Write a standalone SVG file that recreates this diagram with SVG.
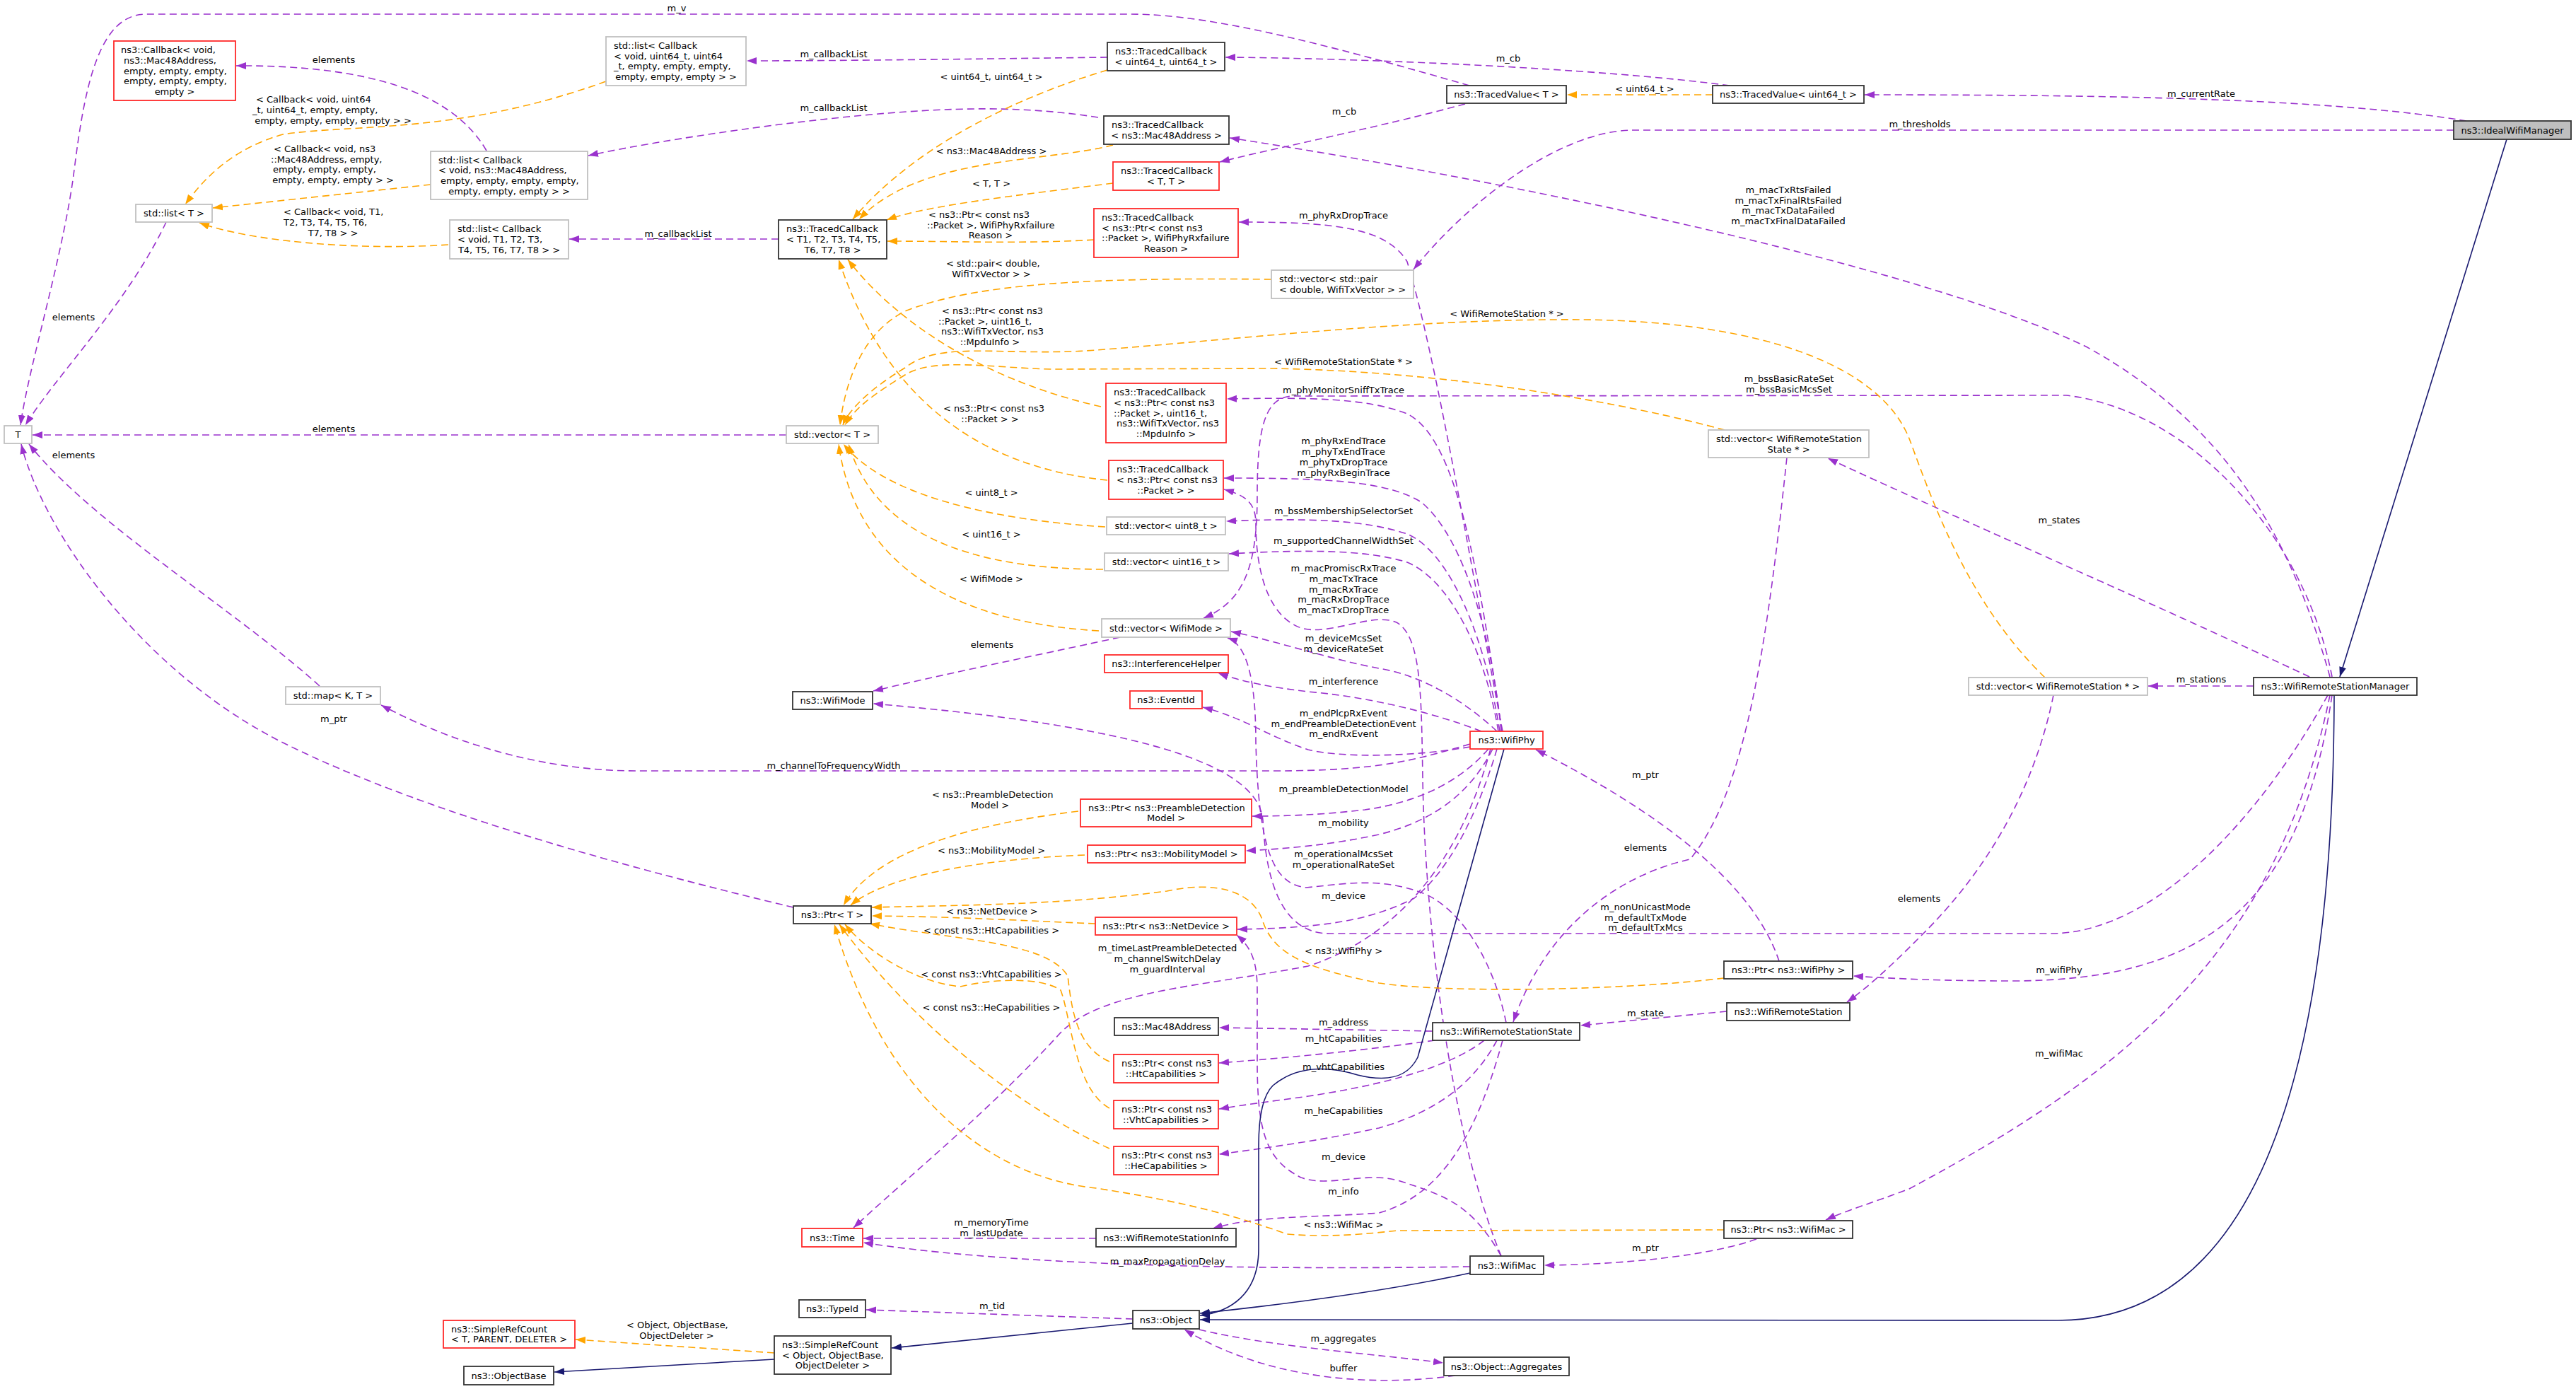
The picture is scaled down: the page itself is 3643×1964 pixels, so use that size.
<svg xmlns="http://www.w3.org/2000/svg" width="3643" height="1964" viewBox="0 0 3643 1964">
<style>
text{font-family:"DejaVu Sans","Liberation Sans",sans-serif;font-size:13px;fill:#000;text-anchor:middle}
text.s{text-anchor:start}
rect{fill:#fff;stroke-width:1.8}
rect.b{stroke:#333}
rect.r{stroke:#ff2a2a}
rect.g{stroke:#c0c0c0}
rect.f{fill:#bfbfbf;stroke:#333}
.u{fill:none;stroke:#9a32cd;stroke-width:1.6;stroke-dasharray:10,6;marker-end:url(#au)}
.t{fill:none;stroke:#ffa500;stroke-width:1.6;stroke-dasharray:10,6;marker-end:url(#at)}
.i{fill:none;stroke:#191970;stroke-width:1.6;marker-end:url(#ai)}
</style>
<defs>
<marker id="au" markerUnits="userSpaceOnUse" markerWidth="15" markerHeight="11" refX="14" refY="5" orient="auto"><path d="M0,0 L14,5 L0,10 Z" fill="#9a32cd"/></marker>
<marker id="at" markerUnits="userSpaceOnUse" markerWidth="15" markerHeight="11" refX="14" refY="5" orient="auto"><path d="M0,0 L14,5 L0,10 Z" fill="#ffa500"/></marker>
<marker id="ai" markerUnits="userSpaceOnUse" markerWidth="15" markerHeight="11" refX="14" refY="5" orient="auto"><path d="M0,0 L14,5 L0,10 Z" fill="#191970"/></marker>
</defs>
<rect x="0" y="0" width="3643" height="1964" fill="#fff" stroke="none"/>
<g id="edges">
<path class="u" d="M3488,171 C3300,140 3000,134 2637,134"/>
<path class="u" d="M3470,184 L2310,184 C2210,184 2080,280 1999,381"/>
<path class="u" d="M2446,121 C2250,95 1900,82 1733,81"/>
<path class="u" d="M2078,121 C1900,70 1720,20 1600,20 L205,20 C140,22 120,120 105,240 S40,520 29,601"/>
<path class="u" d="M2072,147 C1950,180 1800,210 1725,229"/>
<path class="u" d="M1566,81 C1400,83 1200,86 1056,86"/>
<path class="u" d="M1553,166 C1450,150 1350,150 1200,165 C1050,180 900,205 832,220"/>
<path class="u" d="M1101,338 L805,338"/>
<path class="u" d="M688,213 C640,130 520,92 334,93"/>
<path class="u" d="M235,314 C180,430 80,530 36,601"/>
<path class="u" d="M1112,615 L46,615"/>
<path class="u" d="M452,970 C330,860 130,740 41,628"/>
<path class="u" d="M1122,1283 C900,1230 600,1150 400,1050 C200,950 60,750 30,628"/>
<path class="u" d="M2079,1052 C2000,1075 1950,1090 1800,1090 L900,1090 C750,1090 620,1040 539,997"/>
<path class="u" d="M1584,901 C1450,930 1350,950 1235,977"/>
<path class="u" d="M3292,983 C3200,1150 3050,1320 2900,1320 L1880,1320 C1810,1320 1790,1240 1786,1160 C1780,1090 1650,1030 1235,995"/>
<path class="u" d="M2904,983 C2870,1150 2780,1260 2720,1320 C2690,1350 2650,1390 2612,1417"/>
<path class="u" d="M2527,647 C2500,900 2470,1120 2390,1215 C2300,1235 2190,1300 2140,1445"/>
<path class="u" d="M3266,957 C3050,855 2750,725 2585,648"/>
<path class="u" d="M3187,970 L3038,970"/>
<path class="u" d="M3295,957 C3240,760 3150,600 2950,490 C2700,370 2100,250 1739,195"/>
<path class="u" d="M3298,957 C3260,760 3100,580 2922,559 L1830,560 C1790,560 1778,600 1778,700 C1778,800 1760,850 1702,874"/>
<path class="u" d="M2125,1034 C2080,800 2030,500 1990,370 C1960,320 1880,314 1752,314"/>
<path class="u" d="M2124,1034 C2090,800 2060,620 1990,585 C1930,562 1850,562 1735,564"/>
<path class="u" d="M2123,1034 C2110,900 2070,760 2010,710 C1960,680 1880,676 1731,676"/>
<path class="u" d="M2121,1034 C2100,900 2050,780 1990,755 C1930,735 1850,732 1734,737"/>
<path class="u" d="M2119,1034 C2100,920 2050,820 1990,795 C1930,777 1850,777 1738,783"/>
<path class="u" d="M2123,1776 C2050,1600 2015,1300 2012,1100 C2010,980 2010,900 1975,880 C1940,865 1880,900 1840,888 C1790,870 1776,800 1776,740 C1776,710 1760,700 1731,692"/>
<path class="u" d="M2117,1034 C2070,990 2010,955 1950,945 C1880,932 1800,905 1741,893"/>
<path class="u" d="M2130,1446 C2110,1350 2060,1280 2010,1262 C1950,1240 1900,1250 1847,1255 C1800,1250 1780,1200 1776,1050 C1776,950 1760,910 1736,902"/>
<path class="u" d="M2095,1034 C2020,1005 1930,985 1850,978 C1800,972 1760,965 1723,952"/>
<path class="u" d="M2079,1056 C2000,1070 1900,1072 1850,1060 C1790,1040 1760,1015 1701,1000"/>
<path class="u" d="M2105,1059 C2060,1110 2000,1135 1930,1145 C1870,1152 1820,1154 1771,1154"/>
<path class="u" d="M2111,1059 C2080,1120 2030,1160 1950,1180 C1880,1195 1820,1200 1762,1203"/>
<path class="u" d="M2117,1059 C2090,1150 2050,1230 2000,1270 C1940,1300 1880,1312 1750,1314"/>
<path class="u" d="M2123,1776 C2080,1700 2040,1690 1980,1670 C1930,1655 1880,1680 1840,1665 C1790,1640 1778,1600 1778,1500 L1778,1400 C1778,1360 1770,1340 1749,1322"/>
<path class="u" d="M2108,1059 C2070,1200 1990,1320 1850,1366 C1700,1395 1560,1400 1500,1460 C1400,1570 1300,1650 1207,1736"/>
<path class="u" d="M2026,1458 L1724,1453"/>
<path class="u" d="M2029,1471 C1930,1485 1830,1495 1724,1503"/>
<path class="u" d="M2099,1471 C2050,1510 1950,1535 1850,1550 C1800,1557 1760,1562 1724,1568"/>
<path class="u" d="M2117,1471 C2080,1540 2020,1575 1950,1595 C1870,1612 1800,1622 1724,1632"/>
<path class="u" d="M2125,1471 C2090,1600 2040,1690 1950,1715 C1860,1722 1780,1718 1715,1737"/>
<path class="u" d="M1550,1751 L1221,1751"/>
<path class="u" d="M2079,1791 C1700,1797 1400,1785 1221,1757"/>
<path class="u" d="M1602,1865 L1225,1852"/>
<path class="u" d="M1696,1880 C1800,1905 1950,1915 2041,1927"/>
<path class="u" d="M2058,1945 C1950,1960 1800,1955 1675,1880"/>
<path class="u" d="M2442,1430 L2235,1450"/>
<path class="u" d="M2484,1752 C2420,1775 2300,1788 2184,1789"/>
<path class="u" d="M2516,1359 C2480,1250 2350,1150 2172,1060"/>
<path class="u" d="M3298,983 C3250,1300 3100,1385 2850,1387 C2750,1387 2680,1384 2621,1380"/>
<path class="u" d="M3295,983 C3220,1350 3000,1520 2700,1681 C2650,1700 2610,1712 2582,1725"/>
<path class="i" d="M3545,197 L3309,957"/>
<path class="i" d="M3301,983 C3300,1500 3200,1867 2910,1867 L1697,1866"/>
<path class="i" d="M2127,1059 L2005,1495 C1990,1525 1960,1530 1920,1520 C1870,1505 1830,1510 1800,1535 C1785,1550 1780,1580 1780,1620 L1780,1766 C1780,1830 1740,1855 1697,1860"/>
<path class="i" d="M2079,1800 C1950,1828 1800,1846 1697,1857"/>
<path class="i" d="M1602,1871 L1261,1906"/>
<path class="i" d="M1095,1922 L784,1940"/>
<path class="t" d="M2422,134 L2216,134"/>
<path class="t" d="M1566,99 C1430,140 1290,210 1206,310"/>
<path class="t" d="M1574,205 C1480,230 1300,220 1215,310"/>
<path class="t" d="M1574,259 C1450,275 1310,290 1254,311"/>
<path class="t" d="M1547,339 C1450,345 1350,341 1255,341"/>
<path class="t" d="M1557,575 C1400,540 1270,460 1199,367"/>
<path class="t" d="M1566,679 C1380,660 1250,560 1186,367"/>
<path class="t" d="M1798,395 C1550,392 1380,400 1280,440 C1220,470 1195,540 1188,601"/>
<path class="t" d="M2892,958 C2780,850 2730,700 2700,620 C2660,520 2500,455 2240,452 C2000,450 1750,480 1550,495 C1420,505 1330,480 1280,520 C1230,550 1200,580 1192,601"/>
<path class="t" d="M2439,608 C2300,570 2050,525 1800,521 L1487,522 C1400,520 1320,505 1280,530 C1240,555 1210,575 1195,601"/>
<path class="t" d="M1563,745 C1400,735 1250,700 1193,628"/>
<path class="t" d="M1560,805 C1380,805 1240,760 1200,628"/>
<path class="t" d="M1554,892 C1350,880 1210,800 1186,628"/>
<path class="t" d="M1525,1147 C1380,1165 1240,1200 1193,1280"/>
<path class="t" d="M1534,1209 C1380,1215 1250,1240 1203,1280"/>
<path class="t" d="M1549,1306 C1450,1302 1350,1296 1233,1295"/>
<path class="t" d="M2438,1383 C2300,1400 2050,1405 1950,1390 C1850,1370 1800,1350 1785,1300 C1770,1260 1720,1245 1650,1260 C1500,1280 1350,1280 1233,1283"/>
<path class="t" d="M1569,1501 C1520,1480 1515,1420 1510,1380 C1480,1330 1350,1330 1230,1306"/>
<path class="t" d="M1569,1567 C1520,1540 1515,1440 1500,1400 C1470,1380 1400,1385 1358,1395 C1300,1390 1230,1350 1195,1307"/>
<path class="t" d="M1569,1624 C1450,1570 1300,1460 1187,1307"/>
<path class="t" d="M2438,1739 L1976,1740 C1930,1745 1880,1750 1820,1745 C1750,1720 1680,1700 1550,1680 C1400,1665 1250,1550 1180,1307"/>
<path class="t" d="M1095,1913 L814,1894"/>
<path class="t" d="M857,115 C650,190 500,175 400,190 C330,210 290,250 262,289"/>
<path class="t" d="M609,261 L301,294"/>
<path class="t" d="M634,346 C500,355 350,340 282,315"/>
</g>
<g id="n-ideal"><rect class="f" x="3470" y="171" width="166" height="26"/><text x="3553" y="188.5">ns3::IdealWifiManager</text></g>
<g id="n-wrsm"><rect class="b" x="3187" y="958" width="231" height="25"/><text x="3302.5" y="975">ns3::WifiRemoteStationManager</text></g>
<g id="n-tv-u64"><rect class="b" x="2422" y="121" width="214" height="25"/><text x="2529" y="138">ns3::TracedValue&lt; uint64_t &gt;</text></g>
<g id="n-tv-t"><rect class="b" x="2046" y="121" width="169" height="25"/><text x="2130.5" y="138">ns3::TracedValue&lt; T &gt;</text></g>
<g id="n-vec-pair"><rect class="g" x="1798" y="382" width="201" height="40"/><text class="s" x="1809" y="399">std::vector&lt; std::pair</text><text x="1898.5" y="414">&lt; double, WifiTxVector &gt; &gt;</text></g>
<g id="n-vec-wrss"><rect class="g" x="2416" y="608" width="227" height="39"/><text class="s" x="2427" y="625">std::vector&lt; WifiRemoteStation</text><text x="2529.5" y="639.5">State * &gt;</text></g>
<g id="n-vec-wrs"><rect class="g" x="2784" y="958" width="253" height="25"/><text x="2910.5" y="975">std::vector&lt; WifiRemoteStation * &gt;</text></g>
<g id="n-tcb-u64"><rect class="b" x="1566" y="60" width="166" height="40"/><text class="s" x="1577" y="77">ns3::TracedCallback</text><text x="1649" y="92">&lt; uint64_t, uint64_t &gt;</text></g>
<g id="n-tcb-mac"><rect class="b" x="1561" y="164" width="177" height="40"/><text class="s" x="1572" y="181">ns3::TracedCallback</text><text x="1649.5" y="196">&lt; ns3::Mac48Address &gt;</text></g>
<g id="n-tcb-tt"><rect class="r" x="1574" y="229" width="150" height="40"/><text class="s" x="1585" y="246">ns3::TracedCallback</text><text x="1649" y="261">&lt; T, T &gt;</text></g>
<g id="n-tcb-rxf"><rect class="r" x="1547" y="295" width="204" height="69"/><text class="s" x="1558" y="312">ns3::TracedCallback</text><text class="s" x="1558" y="326.7">&lt; ns3::Ptr&lt; const ns3</text><text class="s" x="1558" y="341.4">::Packet &gt;, WifiPhyRxfailure</text><text x="1649" y="356">Reason &gt;</text></g>
<g id="n-tcb-t8"><rect class="b" x="1101" y="311" width="153" height="55"/><text class="s" x="1112" y="328.3">ns3::TracedCallback</text><text class="s" x="1112" y="343">&lt; T1, T2, T3, T4, T5,</text><text x="1177.5" y="357.7">T6, T7, T8 &gt;</text></g>
<g id="n-list-u64"><rect class="g" x="857" y="52" width="198" height="69"/><text class="s" x="868" y="69">std::list&lt; Callback</text><text class="s" x="868" y="83.7">&lt; void, uint64_t, uint64</text><text class="s" x="868" y="98.4">_t, empty, empty, empty,</text><text x="956" y="113">empty, empty, empty &gt; &gt;</text></g>
<g id="n-list-mac"><rect class="g" x="609" y="214" width="222" height="68"/><text class="s" x="620" y="230.5">std::list&lt; Callback</text><text class="s" x="620" y="245.2">&lt; void, ns3::Mac48Address,</text><text class="s" x="623" y="259.9">empty, empty, empty, empty,</text><text x="720" y="274.5">empty, empty, empty &gt; &gt;</text></g>
<g id="n-list-t8"><rect class="g" x="636" y="311" width="168" height="55"/><text class="s" x="647" y="328.3">std::list&lt; Callback</text><text class="s" x="647" y="343">&lt; void, T1, T2, T3,</text><text x="720" y="357.7">T4, T5, T6, T7, T8 &gt; &gt;</text></g>
<g id="n-list-t"><rect class="g" x="192" y="289" width="108" height="25"/><text x="246" y="306">std::list&lt; T &gt;</text></g>
<g id="n-callback"><rect class="r" x="161" y="58" width="172" height="84"/><text class="s" x="171" y="75.1">ns3::Callback&lt; void,</text><text class="s" x="175" y="89.8">ns3::Mac48Address,</text><text class="s" x="175" y="104.5">empty, empty, empty,</text><text class="s" x="175" y="119.2">empty, empty, empty,</text><text x="247" y="133.9">empty &gt;</text></g>
<g id="n-T"><rect class="g" x="6" y="602" width="39" height="25"/><text x="25.5" y="619">T</text></g>
<g id="n-vec-t"><rect class="g" x="1112" y="602" width="130" height="25"/><text x="1177" y="619">std::vector&lt; T &gt;</text></g>
<g id="n-tcb-mpdu"><rect class="r" x="1564" y="542" width="170" height="84"/><text class="s" x="1575" y="559.1">ns3::TracedCallback</text><text class="s" x="1575" y="573.8">&lt; ns3::Ptr&lt; const ns3</text><text class="s" x="1575" y="588.5">::Packet &gt;, uint16_t,</text><text class="s" x="1579" y="603.2">ns3::WifiTxVector, ns3</text><text x="1649" y="617.9">::MpduInfo &gt;</text></g>
<g id="n-tcb-pkt"><rect class="r" x="1568" y="651" width="162" height="55"/><text class="s" x="1579" y="668.3">ns3::TracedCallback</text><text class="s" x="1579" y="683">&lt; ns3::Ptr&lt; const ns3</text><text x="1649" y="697.7">::Packet &gt; &gt;</text></g>
<g id="n-vec-u8"><rect class="g" x="1565" y="731" width="168" height="25"/><text x="1649" y="748">std::vector&lt; uint8_t &gt;</text></g>
<g id="n-vec-u16"><rect class="g" x="1562" y="782" width="175" height="25"/><text x="1649.5" y="799">std::vector&lt; uint16_t &gt;</text></g>
<g id="n-vec-mode"><rect class="g" x="1558" y="875" width="182" height="26"/><text x="1649" y="892.5">std::vector&lt; WifiMode &gt;</text></g>
<g id="n-interf"><rect class="r" x="1562" y="926" width="175" height="25"/><text x="1649.5" y="943">ns3::InterferenceHelper</text></g>
<g id="n-wifimode"><rect class="b" x="1121" y="978" width="113" height="25"/><text x="1177.5" y="995">ns3::WifiMode</text></g>
<g id="n-eventid"><rect class="r" x="1598" y="977" width="102" height="25"/><text x="1649" y="994">ns3::EventId</text></g>
<g id="n-map"><rect class="g" x="404" y="971" width="134" height="25"/><text x="471" y="988">std::map&lt; K, T &gt;</text></g>
<g id="n-ptr-pre"><rect class="r" x="1528" y="1130" width="242" height="39"/><text class="s" x="1539" y="1146.7">ns3::Ptr&lt; ns3::PreambleDetection</text><text x="1649" y="1161.4">Model &gt;</text></g>
<g id="n-ptr-mob"><rect class="r" x="1538" y="1195" width="223" height="25"/><text x="1649.5" y="1212">ns3::Ptr&lt; ns3::MobilityModel &gt;</text></g>
<g id="n-ptr-t"><rect class="b" x="1122" y="1281" width="110" height="25"/><text x="1177" y="1298">ns3::Ptr&lt; T &gt;</text></g>
<g id="n-ptr-nd"><rect class="r" x="1549" y="1297" width="200" height="25"/><text x="1649" y="1314">ns3::Ptr&lt; ns3::NetDevice &gt;</text></g>
<g id="n-wifiphy"><rect class="r" x="2079" y="1034" width="103" height="25"/><text x="2130.5" y="1051">ns3::WifiPhy</text></g>
<g id="n-mac48"><rect class="b" x="1576" y="1439" width="147" height="25"/><text x="1649.5" y="1456">ns3::Mac48Address</text></g>
<g id="n-ptr-ht"><rect class="r" x="1575" y="1491" width="148" height="40"/><text class="s" x="1586" y="1508.2">ns3::Ptr&lt; const ns3</text><text x="1649" y="1522.9">::HtCapabilities &gt;</text></g>
<g id="n-ptr-vht"><rect class="r" x="1575" y="1556" width="148" height="40"/><text class="s" x="1586" y="1573.2">ns3::Ptr&lt; const ns3</text><text x="1649" y="1587.9">::VhtCapabilities &gt;</text></g>
<g id="n-ptr-he"><rect class="r" x="1575" y="1621" width="148" height="40"/><text class="s" x="1586" y="1638.2">ns3::Ptr&lt; const ns3</text><text x="1649" y="1652.9">::HeCapabilities &gt;</text></g>
<g id="n-time"><rect class="r" x="1134" y="1737" width="86" height="26"/><text x="1177" y="1754.5">ns3::Time</text></g>
<g id="n-wrsinfo"><rect class="b" x="1550" y="1737" width="198" height="26"/><text x="1649" y="1754.5">ns3::WifiRemoteStationInfo</text></g>
<g id="n-typeid"><rect class="b" x="1130" y="1838" width="94" height="25"/><text x="1177" y="1855">ns3::TypeId</text></g>
<g id="n-object"><rect class="b" x="1602" y="1853" width="94" height="26"/><text x="1649" y="1870.5">ns3::Object</text></g>
<g id="n-src-obj"><rect class="b" x="1095" y="1889" width="165" height="54"/><text class="s" x="1106" y="1905.8">ns3::SimpleRefCount</text><text class="s" x="1106" y="1920.5">&lt; Object, ObjectBase,</text><text x="1177.5" y="1935.2">ObjectDeleter &gt;</text></g>
<g id="n-src-t"><rect class="r" x="627" y="1867" width="186" height="39"/><text class="s" x="638" y="1883.7">ns3::SimpleRefCount</text><text x="720" y="1898.4">&lt; T, PARENT, DELETER &gt;</text></g>
<g id="n-objbase"><rect class="b" x="656" y="1932" width="127" height="26"/><text x="719.5" y="1949.5">ns3::ObjectBase</text></g>
<g id="n-ptr-phy"><rect class="b" x="2438" y="1359" width="182" height="25"/><text x="2529" y="1376">ns3::Ptr&lt; ns3::WifiPhy &gt;</text></g>
<g id="n-wrs"><rect class="b" x="2442" y="1418" width="174" height="25"/><text x="2529" y="1435">ns3::WifiRemoteStation</text></g>
<g id="n-wrss"><rect class="b" x="2026" y="1446" width="208" height="25"/><text x="2130" y="1463">ns3::WifiRemoteStationState</text></g>
<g id="n-ptr-mac"><rect class="b" x="2438" y="1726" width="182" height="25"/><text x="2529" y="1743">ns3::Ptr&lt; ns3::WifiMac &gt;</text></g>
<g id="n-wifimac"><rect class="b" x="2079" y="1776" width="104" height="26"/><text x="2131" y="1793.5">ns3::WifiMac</text></g>
<g id="n-aggr"><rect class="b" x="2042" y="1919" width="177" height="26"/><text x="2130.5" y="1936.5">ns3::Object::Aggregates</text></g>
<g id="labels">
<text x="3113" y="137">m_currentRate</text>
<text x="2715" y="180">m_thresholds</text>
<text x="2133" y="87">m_cb</text>
<text x="957" y="16">m_v</text>
<text x="1901" y="162">m_cb</text>
<text x="1179" y="81">m_callbackList</text>
<text x="1179" y="157">m_callbackList</text>
<text x="959" y="335">m_callbackList</text>
<text x="472" y="89">elements</text>
<text x="104" y="453">elements</text>
<text x="472" y="611">elements</text>
<text x="104" y="648">elements</text>
<text x="472" y="1021">m_ptr</text>
<text x="1179" y="1087">m_channelToFrequencyWidth</text>
<text x="1403" y="916">elements</text>
<text x="2327" y="1287">m_nonUnicastMode</text>
<text x="2327" y="1301.5">m_defaultTxMode</text>
<text x="2327" y="1316">m_defaultTxMcs</text>
<text x="2714" y="1275">elements</text>
<text x="2327" y="1203">elements</text>
<text x="2912" y="740">m_states</text>
<text x="3113" y="965">m_stations</text>
<text x="2529" y="273">m_macTxRtsFailed</text>
<text x="2529" y="287.7">m_macTxFinalRtsFailed</text>
<text x="2529" y="302.4">m_macTxDataFailed</text>
<text x="2529" y="317">m_macTxFinalDataFailed</text>
<text x="2530" y="540">m_bssBasicRateSet</text>
<text x="2530" y="555">m_bssBasicMcsSet</text>
<text x="1900" y="309">m_phyRxDropTrace</text>
<text x="1900" y="556">m_phyMonitorSniffTxTrace</text>
<text x="1900" y="628">m_phyRxEndTrace</text>
<text x="1900" y="643">m_phyTxEndTrace</text>
<text x="1900" y="658">m_phyTxDropTrace</text>
<text x="1900" y="673">m_phyRxBeginTrace</text>
<text x="1900" y="727">m_bssMembershipSelectorSet</text>
<text x="1900" y="769">m_supportedChannelWidthSet</text>
<text x="1900" y="808">m_macPromiscRxTrace</text>
<text x="1900" y="823">m_macTxTrace</text>
<text x="1900" y="838">m_macRxTrace</text>
<text x="1900" y="852">m_macRxDropTrace</text>
<text x="1900" y="867">m_macTxDropTrace</text>
<text x="1900" y="907">m_deviceMcsSet</text>
<text x="1900" y="922">m_deviceRateSet</text>
<text x="1900" y="968">m_interference</text>
<text x="1900" y="1013">m_endPlcpRxEvent</text>
<text x="1900" y="1028">m_endPreambleDetectionEvent</text>
<text x="1900" y="1042">m_endRxEvent</text>
<text x="1900" y="1120">m_preambleDetectionModel</text>
<text x="1900" y="1168">m_mobility</text>
<text x="1900" y="1212">m_operationalMcsSet</text>
<text x="1900" y="1227">m_operationalRateSet</text>
<text x="1900" y="1271">m_device</text>
<text x="2327" y="1100">m_ptr</text>
<text x="1651" y="1345">m_timeLastPreambleDetected</text>
<text x="1651" y="1360">m_channelSwitchDelay</text>
<text x="1651" y="1375">m_guardInterval</text>
<text x="1900" y="1450">m_address</text>
<text x="1900" y="1473">m_htCapabilities</text>
<text x="1900" y="1513">m_vhtCapabilities</text>
<text x="1900" y="1575">m_heCapabilities</text>
<text x="1900" y="1640">m_device</text>
<text x="1900" y="1689">m_info</text>
<text x="1402" y="1733">m_memoryTime</text>
<text x="1402" y="1748">m_lastUpdate</text>
<text x="1651" y="1788">m_maxPropagationDelay</text>
<text x="1403" y="1851">m_tid</text>
<text x="1900" y="1897">m_aggregates</text>
<text x="1900" y="1939">buffer</text>
<text x="2327" y="1437">m_state</text>
<text x="2327" y="1769">m_ptr</text>
<text x="2912" y="1376">m_wifiPhy</text>
<text x="2912" y="1494">m_wifiMac</text>
<text x="2326" y="130">&lt; uint64_t &gt;</text>
<text x="1402" y="113">&lt; uint64_t, uint64_t &gt;</text>
<text x="1402" y="218">&lt; ns3::Mac48Address &gt;</text>
<text x="1402" y="264">&lt; T, T &gt;</text>
<text class="s" x="1313" y="308">&lt; ns3::Ptr&lt; const ns3</text>
<text class="s" x="1311" y="323">::Packet &gt;, WifiPhyRxfailure</text>
<text x="1401" y="337">Reason &gt;</text>
<text class="s" x="1338" y="377">&lt; std::pair&lt; double,</text>
<text x="1402" y="392">WifiTxVector &gt; &gt;</text>
<text class="s" x="1332" y="444">&lt; ns3::Ptr&lt; const ns3</text>
<text class="s" x="1327" y="458.7">::Packet &gt;, uint16_t,</text>
<text class="s" x="1331" y="473.4">ns3::WifiTxVector, ns3</text>
<text x="1400" y="488">::MpduInfo &gt;</text>
<text class="s" x="1334" y="582">&lt; ns3::Ptr&lt; const ns3</text>
<text x="1400" y="596.7">::Packet &gt; &gt;</text>
<text x="2131" y="448">&lt; WifiRemoteStation * &gt;</text>
<text x="1900" y="516">&lt; WifiRemoteStationState * &gt;</text>
<text x="1402" y="701">&lt; uint8_t &gt;</text>
<text x="1402" y="760">&lt; uint16_t &gt;</text>
<text x="1402" y="823">&lt; WifiMode &gt;</text>
<text class="s" x="1318" y="1128">&lt; ns3::PreambleDetection</text>
<text x="1400" y="1143">Model &gt;</text>
<text x="1402" y="1207">&lt; ns3::MobilityModel &gt;</text>
<text x="1403" y="1293">&lt; ns3::NetDevice &gt;</text>
<text x="1402" y="1320">&lt; const ns3::HtCapabilities &gt;</text>
<text x="1402" y="1382">&lt; const ns3::VhtCapabilities &gt;</text>
<text x="1402" y="1429">&lt; const ns3::HeCapabilities &gt;</text>
<text x="1900" y="1349">&lt; ns3::WifiPhy &gt;</text>
<text x="1900" y="1736">&lt; ns3::WifiMac &gt;</text>
<text class="s" x="886" y="1878">&lt; Object, ObjectBase,</text>
<text x="957" y="1892.7">ObjectDeleter &gt;</text>
<text class="s" x="362" y="145">&lt; Callback&lt; void, uint64</text>
<text class="s" x="357" y="160">_t, uint64_t, empty, empty,</text>
<text x="471" y="175">empty, empty, empty, empty &gt; &gt;</text>
<text class="s" x="387" y="215">&lt; Callback&lt; void, ns3</text>
<text class="s" x="383" y="229.7">::Mac48Address, empty,</text>
<text class="s" x="386" y="244.4">empty, empty, empty,</text>
<text x="471" y="259.1">empty, empty, empty &gt; &gt;</text>
<text class="s" x="401" y="304">&lt; Callback&lt; void, T1,</text>
<text class="s" x="401" y="319">T2, T3, T4, T5, T6,</text>
<text x="471" y="333.5">T7, T8 &gt; &gt;</text>
</g>
</svg>
